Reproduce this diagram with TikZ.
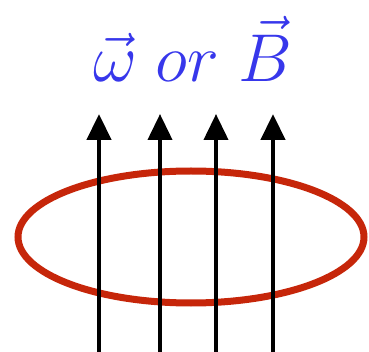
\documentclass[tikz,border=0pt]{standalone}
\usetikzlibrary{arrows.meta}
\definecolor{loopred}{RGB}{198,38,10}
\definecolor{fieldblue}{RGB}{55,55,235}
\begin{document}
\begin{tikzpicture}[x=1pt,y=-1pt,
  fieldarrow/.style={line width=4.5pt,-{Triangle[width=24pt,length=26pt]}},
  loop/.style={draw=loopred,line width=7pt}]
\useasboundingbox (0,0) rectangle (369,352);
\draw[loop] (191,237) ellipse [x radius=173, y radius=66];
\coordinate (b1) at (99,352); \coordinate (t1) at (99,114);
\coordinate (b2) at (160,352); \coordinate (t2) at (160,114);
\coordinate (b3) at (216,352); \coordinate (t3) at (216,114);
\coordinate (b4) at (273,352); \coordinate (t4) at (273,114);
\draw[fieldarrow] (b1) -- (t1);
\draw[fieldarrow,line width=4pt] (b2) -- (t2);
\draw[fieldarrow,line width=4pt] (b3) -- (t3);
\draw[fieldarrow] (b4) -- (t4);
\node[anchor=base,text=fieldblue,inner sep=0pt] (label) at (192.5,82) {\scalebox{2.72}{\Huge$\vec\omega\;or\;\vec B$}};
\end{tikzpicture}
\end{document}
